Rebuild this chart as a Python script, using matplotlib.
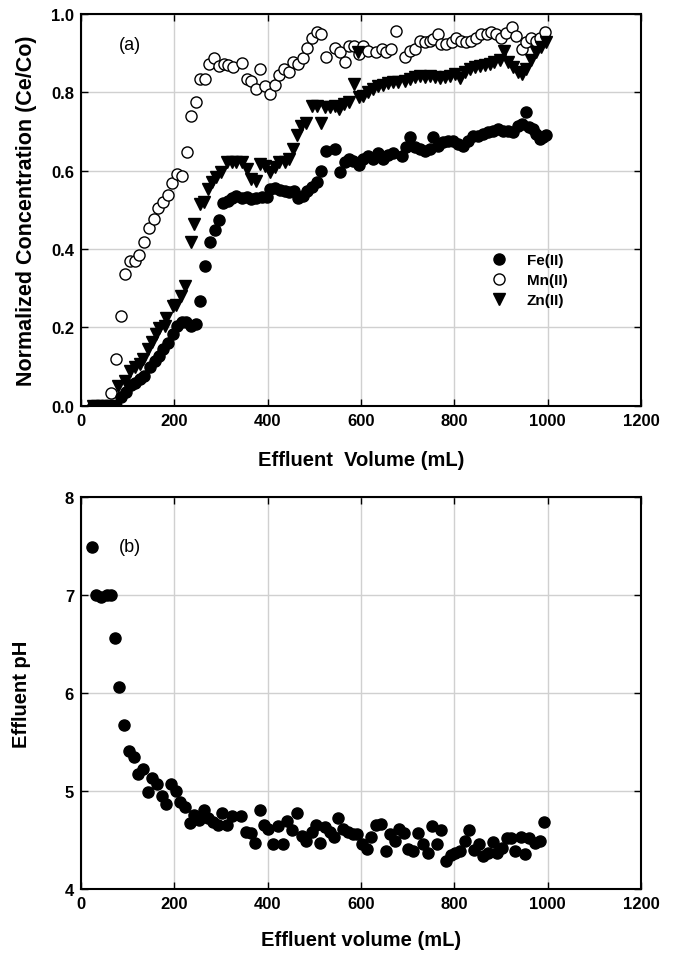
import matplotlib
matplotlib.use("Agg")
import matplotlib.pyplot as plt
from matplotlib.lines import Line2D
from matplotlib import font_manager

names = {f.name for f in font_manager.fontManager.ttflist}
FAM = 'Liberation Sans' if 'Liberation Sans' in names else 'DejaVu Sans'
plt.rcParams['font.family'] = [FAM, 'DejaVu Sans']

# ---------------- Panel (a) data ----------------
fe_x = [25, 35, 45, 55, 65, 75, 86, 97, 108, 116, 126, 136, 147, 158, 168, 176, 186, 197, 206, 216,
        225, 236, 247, 256, 266, 276, 287, 296, 305, 314, 323, 333, 344, 355, 365, 376, 387, 398,
        405, 415, 426, 437, 446, 456, 465, 475, 485, 494, 505, 515, 525, 544, 555, 565, 575, 583,
        596, 605, 615, 626, 637, 647, 658, 669, 687, 697, 706, 715, 726, 737, 747, 754, 765, 776,
        787, 797, 808, 819, 829, 840, 851, 861, 872, 883, 894, 904, 915, 926, 936, 944, 953, 961,
        969, 976, 983, 991, 997]
fe_y = [0, 0, 0, 0, 0, 0, .021, .034, .053, .058, .068, .077, .098, .115, .128, .145, .159, .183, .204, .213,
        .214, .204, .209, .268, .357, .417, .449, .475, .518, .523, .529, .535, .529, .534, .528, .529, .532, .534,
        .553, .555, .551, .547, .545, .549, .530, .536, .549, .558, .572, .600, .651, .655, .596, .621, .630, .625,
        .614, .630, .638, .630, .645, .630, .640, .645, .638, .660, .685, .660, .655, .651, .655, .685, .664, .672,
        .677, .677, .668, .664, .677, .689, .689, .694, .698, .702, .706, .702, .702, .698, .715, .719, .749, .711,
        .706, .694, .681, .685, .691]

mn_x = [25, 35, 45, 55, 64, 74, 85, 94, 105, 116, 125, 135, 146, 156, 166, 176, 187, 196, 205, 216,
        227, 235, 246, 255, 266, 274, 285, 296, 306, 315, 326, 344, 355, 365, 376, 383, 394, 405,
        415, 425, 435, 446, 455, 465, 475, 485, 494, 505, 515, 525, 544, 555, 565, 575, 585, 596,
        605, 615, 633, 644, 654, 665, 676, 694, 704, 715, 726, 737, 747, 754, 765, 772, 783, 794,
        804, 815, 826, 836, 847, 858, 869, 879, 890, 901, 911, 924, 933, 944, 954, 965, 976, 984, 994]
mn_y = [0, 0, 0, 0, .032, .119, .230, .336, .370, .370, .385, .418, .454, .477, .504, .520, .538, .568, .592, .587,
        .647, .740, .775, .834, .834, .872, .887, .868, .872, .870, .864, .874, .834, .830, .808, .860, .815, .797,
        .819, .844, .860, .853, .877, .872, .887, .912, .940, .953, .949, .889, .912, .904, .878, .919, .919, .898,
        .919, .906, .902, .911, .902, .911, .956, .889, .906, .911, .932, .928, .932, .936, .949, .923, .923, .928,
        .940, .932, .928, .932, .940, .949, .949, .953, .949, .938, .951, .966, .943, .911, .928, .938, .932, .938, .955]

zn_x = [25, 35, 45, 55, 65, 75, 80, 94, 104, 115, 126, 133, 143, 152, 161, 168, 181, 183, 197, 204,
        215, 223, 235, 243, 254, 263, 273, 280, 290, 301, 312, 323, 333, 344, 355, 365, 375, 383,
        394, 405, 415, 425, 437, 446, 455, 463, 472, 483, 494, 505, 515, 522, 533, 544, 553, 563,
        575, 585, 594, 596, 605, 615, 626, 637, 647, 658, 669, 679, 694, 704, 715, 726, 737, 747,
        758, 769, 779, 790, 801, 812, 822, 833, 844, 854, 865, 876, 886, 897, 906, 915, 926, 936,
        944, 954, 965, 976, 986, 997]
zn_y = [0, 0, 0, 0, 0, 0, .051, .064, .089, .098, .106, .119, .145, .163, .183, .198, .204, .223, .255, .257,
        .279, .305, .417, .464, .515, .519, .553, .570, .583, .596, .621, .621, .621, .621, .604, .579, .574, .617,
        .613, .596, .609, .621, .621, .630, .655, .691, .715, .723, .766, .766, .723, .762, .762, .766, .757, .770,
        .775, .821, .904, .787, .791, .800, .809, .815, .819, .824, .826, .826, .830, .834, .838, .842, .838, .842,
        .838, .836, .838, .842, .847, .836, .851, .860, .864, .866, .870, .872, .877, .883, .906, .877, .864, .851,
        .847, .860, .883, .902, .915, .928]

# ---------------- Panel (b) data ----------------
ph_x = [23, 33, 42, 55, 65, 73, 82, 93, 103, 113, 123, 133, 143, 153, 163, 173, 182, 193, 203, 212,
        223, 233, 243, 253, 264, 273, 282, 293, 303, 313, 323, 343, 353, 364, 373, 383, 392, 401,
        412, 423, 432, 442, 452, 463, 473, 483, 494, 503, 512, 522, 533, 542, 551, 562, 572, 582,
        592, 603, 612, 622, 632, 642, 653, 662, 672, 682, 692, 701, 712, 722, 733, 744, 753, 763,
        772, 782, 792, 801, 812, 822, 832, 842, 853, 861, 872, 882, 892, 903, 912, 922, 931, 942,
        952, 961, 972, 983, 992]
ph_y = [7.49, 7.00, 6.98, 7.00, 7.00, 6.56, 6.06, 5.67, 5.41, 5.35, 5.17, 5.22, 4.99, 5.13, 5.07, 4.95, 4.87, 5.07, 5.00, 4.89,
        4.84, 4.67, 4.76, 4.70, 4.81, 4.72, 4.68, 4.65, 4.78, 4.65, 4.75, 4.75, 4.58, 4.57, 4.47, 4.81, 4.65, 4.61,
        4.46, 4.64, 4.46, 4.69, 4.60, 4.78, 4.54, 4.49, 4.58, 4.65, 4.47, 4.63, 4.58, 4.53, 4.72, 4.61, 4.58, 4.56,
        4.56, 4.46, 4.41, 4.53, 4.65, 4.66, 4.39, 4.56, 4.49, 4.61, 4.57, 4.41, 4.39, 4.57, 4.46, 4.37, 4.64, 4.46,
        4.60, 4.29, 4.35, 4.37, 4.39, 4.49, 4.60, 4.40, 4.46, 4.34, 4.37, 4.48, 4.37, 4.42, 4.52, 4.52, 4.39, 4.53,
        4.36, 4.52, 4.47, 4.49, 4.68]

x_ticks = [0, 200, 400, 600, 800, 1000, 1200]
ya_ticks = [0.0, 0.2, 0.4, 0.6, 0.8, 1.0]
yb_ticks = [4, 5, 6, 7, 8]

W, H = 679, 954
fig = plt.figure(figsize=(W / 100, H / 100), dpi=100)
ax1 = fig.add_axes([81 / W, 1 - 406.7 / H, 560 / W, 391.7 / H])
ax2 = fig.add_axes([81 / W, 1 - 890 / H, 560 / W, 392 / H])

TICK_FS = 12
LAB_FS = 14.5
MS = 8

def style(ax):
    ax.grid(True, color='#d0d0d0', linewidth=1.0)
    ax.set_axisbelow(True)
    for s in ax.spines.values():
        s.set_linewidth(1.5)
        s.set_color('black')
    ax.tick_params(direction='in', top=True, right=True, length=5, width=1.0,
                   labelsize=TICK_FS, pad=5)
    for lab in ax.get_xticklabels() + ax.get_yticklabels():
        lab.set_fontweight('bold')

# Panel (a)
ax1.plot(mn_x, mn_y, linestyle='none', marker='o', markersize=MS, markerfacecolor='white',
         markeredgecolor='black', markeredgewidth=1.0, zorder=3)
ax1.plot(zn_x, zn_y, linestyle='none', marker='v', markersize=MS, color='black', zorder=4)
ax1.plot(fe_x, fe_y, linestyle='none', marker='o', markersize=MS, color='black', zorder=5)
ax1.set_xlim(0, 1200)
ax1.set_ylim(0, 1.0)
ax1.set_xticks(x_ticks)
ax1.set_yticks(ya_ticks)
ax1.set_yticklabels([f"{v:.1f}" for v in ya_ticks])
style(ax1)
ax1.set_xlabel('Effluent  Volume (mL)', fontsize=LAB_FS, fontweight='bold', labelpad=16)
ax1.set_ylabel('Normalized Concentration (Ce/Co)', fontsize=15.5, fontweight='bold', labelpad=10)
ax1.text(105, 0.923, '(a)', fontsize=13, ha='center', va='center')

handles = [
    Line2D([], [], linestyle='none', marker='o', markersize=MS, color='black'),
    Line2D([], [], linestyle='none', marker='o', markersize=MS, markerfacecolor='white',
           markeredgecolor='black', markeredgewidth=1.0),
    Line2D([], [], linestyle='none', marker='v', markersize=MS, color='black'),
]
ax1.legend(handles, ['Fe(II)', 'Mn(II)', 'Zn(II)'], loc='center left',
           bbox_to_anchor=(0.72, 0.321), frameon=False, borderpad=0,
           handlelength=1.0, handletextpad=1.3, labelspacing=0.4,
           prop={'weight': 'bold', 'size': 11})

# Panel (b)
ax2.plot(ph_x, ph_y, linestyle='none', marker='o', markersize=MS, color='black', zorder=5)
ax2.set_xlim(0, 1200)
ax2.set_ylim(4, 8)
ax2.set_xticks(x_ticks)
ax2.set_yticks(yb_ticks)
style(ax2)
ax2.set_xlabel('Effluent volume (mL)', fontsize=LAB_FS, fontweight='bold', labelpad=14)
ax2.set_ylabel('Effluent pH', fontsize=LAB_FS, fontweight='bold', labelpad=24)
ax2.text(105, 7.49, '(b)', fontsize=13, ha='center', va='center')

fig.savefig('out.png', dpi=100)
